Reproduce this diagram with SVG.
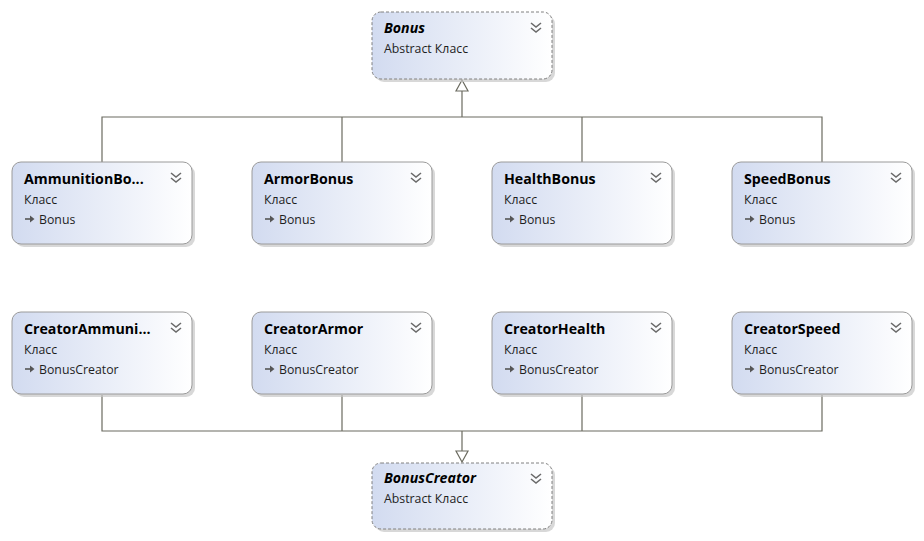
<svg xmlns="http://www.w3.org/2000/svg" width="924" height="541" viewBox="0 0 924 541">
<defs>
<linearGradient id="g" x1="0" y1="0" x2="1" y2="0">
<stop offset="0" stop-color="#d2dbf0"/>
<stop offset="1" stop-color="#ffffff"/>
</linearGradient>
<symbol id="chev" viewBox="0 0 12 12" overflow="visible">
<path d="M1,1 L6,5 L11,1 M1,6 L6,10 L11,6" fill="none" stroke="#6a6a6a" stroke-width="1.6"/>
</symbol>
<symbol id="inh" viewBox="0 0 10 8" overflow="visible">
<path d="M0,4 H6" stroke="#555" stroke-width="1.6"/>
<path d="M5,0.5 L9.5,4 L5,7.5 Z" fill="#555"/>
</symbol>
</defs>
<style>
.shadow{fill:#c8c8c8;opacity:0.7}
.box{fill:url(#g);stroke:#9a9a9a;stroke-width:1}
.abs{stroke-dasharray:3,2;stroke:#808080}
.title{font-family:"Open Sans","Liberation Sans",sans-serif;font-weight:bold;font-size:14.2px;fill:#000}
.ital{font-style:italic}
.sub{font-family:"Open Sans","Liberation Sans",sans-serif;font-size:12.3px;fill:#1e1e1e}
.conn{fill:none;stroke:#6b6b60;stroke-width:1.2}
.head{fill:#fff;stroke:#6b6b60;stroke-width:1.2}
</style>
<rect width="924" height="541" fill="#fff"/>
<g id="connectors">
<path class="conn" d="M102,162 V117 H822 V162 M342,117 V162 M582,117 V162 M462,117 V91"/>
<polygon class="head" points="462,80 456,91 468,91"/>
<path class="conn" d="M102,395 V431 H822 V395 M342,395 V431 M582,395 V431 M462,431 V451"/>
<polygon class="head" points="462,462 456,451 468,451"/>
</g>
<g id="Bonus">
<rect class="shadow" x="375" y="15" width="180" height="67" rx="9"/>
<rect class="box abs" x="372" y="12" width="180" height="67" rx="9"/>
<text class="title ital" x="384" y="33">Bonus</text>
<text class="sub" x="384" y="53">Abstract Класс</text>
<use href="#chev" x="530" y="22" width="12" height="12"/>
</g>
<g id="AmmunitionBonus">
<rect class="shadow" x="15" y="165" width="180" height="82" rx="9"/>
<rect class="box" x="12" y="162" width="180" height="82" rx="9"/>
<text class="title" x="24" y="184">AmmunitionBo...</text>
<text class="sub" x="24" y="204">Класс</text>
<use href="#inh" x="25" y="215" width="10" height="8"/>
<text class="sub" x="39" y="224">Bonus</text>
<use href="#chev" x="170" y="172" width="12" height="12"/>
</g>
<g id="ArmorBonus">
<rect class="shadow" x="255" y="165" width="180" height="82" rx="9"/>
<rect class="box" x="252" y="162" width="180" height="82" rx="9"/>
<text class="title" x="264" y="184">ArmorBonus</text>
<text class="sub" x="264" y="204">Класс</text>
<use href="#inh" x="265" y="215" width="10" height="8"/>
<text class="sub" x="279" y="224">Bonus</text>
<use href="#chev" x="410" y="172" width="12" height="12"/>
</g>
<g id="HealthBonus">
<rect class="shadow" x="495" y="165" width="180" height="82" rx="9"/>
<rect class="box" x="492" y="162" width="180" height="82" rx="9"/>
<text class="title" x="504" y="184">HealthBonus</text>
<text class="sub" x="504" y="204">Класс</text>
<use href="#inh" x="505" y="215" width="10" height="8"/>
<text class="sub" x="519" y="224">Bonus</text>
<use href="#chev" x="650" y="172" width="12" height="12"/>
</g>
<g id="SpeedBonus">
<rect class="shadow" x="735" y="165" width="180" height="82" rx="9"/>
<rect class="box" x="732" y="162" width="180" height="82" rx="9"/>
<text class="title" x="744" y="184">SpeedBonus</text>
<text class="sub" x="744" y="204">Класс</text>
<use href="#inh" x="745" y="215" width="10" height="8"/>
<text class="sub" x="759" y="224">Bonus</text>
<use href="#chev" x="890" y="172" width="12" height="12"/>
</g>
<g id="CreatorAmmunition">
<rect class="shadow" x="15" y="315" width="180" height="82" rx="9"/>
<rect class="box" x="12" y="312" width="180" height="82" rx="9"/>
<text class="title" x="24" y="334">CreatorAmmuni...</text>
<text class="sub" x="24" y="354">Класс</text>
<use href="#inh" x="25" y="365" width="10" height="8"/>
<text class="sub" x="39" y="374">BonusCreator</text>
<use href="#chev" x="170" y="322" width="12" height="12"/>
</g>
<g id="CreatorArmor">
<rect class="shadow" x="255" y="315" width="180" height="82" rx="9"/>
<rect class="box" x="252" y="312" width="180" height="82" rx="9"/>
<text class="title" x="264" y="334">CreatorArmor</text>
<text class="sub" x="264" y="354">Класс</text>
<use href="#inh" x="265" y="365" width="10" height="8"/>
<text class="sub" x="279" y="374">BonusCreator</text>
<use href="#chev" x="410" y="322" width="12" height="12"/>
</g>
<g id="CreatorHealth">
<rect class="shadow" x="495" y="315" width="180" height="82" rx="9"/>
<rect class="box" x="492" y="312" width="180" height="82" rx="9"/>
<text class="title" x="504" y="334">CreatorHealth</text>
<text class="sub" x="504" y="354">Класс</text>
<use href="#inh" x="505" y="365" width="10" height="8"/>
<text class="sub" x="519" y="374">BonusCreator</text>
<use href="#chev" x="650" y="322" width="12" height="12"/>
</g>
<g id="CreatorSpeed">
<rect class="shadow" x="735" y="315" width="180" height="82" rx="9"/>
<rect class="box" x="732" y="312" width="180" height="82" rx="9"/>
<text class="title" x="744" y="334">CreatorSpeed</text>
<text class="sub" x="744" y="354">Класс</text>
<use href="#inh" x="745" y="365" width="10" height="8"/>
<text class="sub" x="759" y="374">BonusCreator</text>
<use href="#chev" x="890" y="322" width="12" height="12"/>
</g>
<g id="BonusCreator">
<rect class="shadow" x="375" y="466" width="180" height="66" rx="9"/>
<rect class="box abs" x="372" y="463" width="180" height="66" rx="9"/>
<text class="title ital" x="384" y="483">BonusCreator</text>
<text class="sub" x="384" y="503">Abstract Класс</text>
<use href="#chev" x="530" y="473" width="12" height="12"/>
</g>
</svg>
